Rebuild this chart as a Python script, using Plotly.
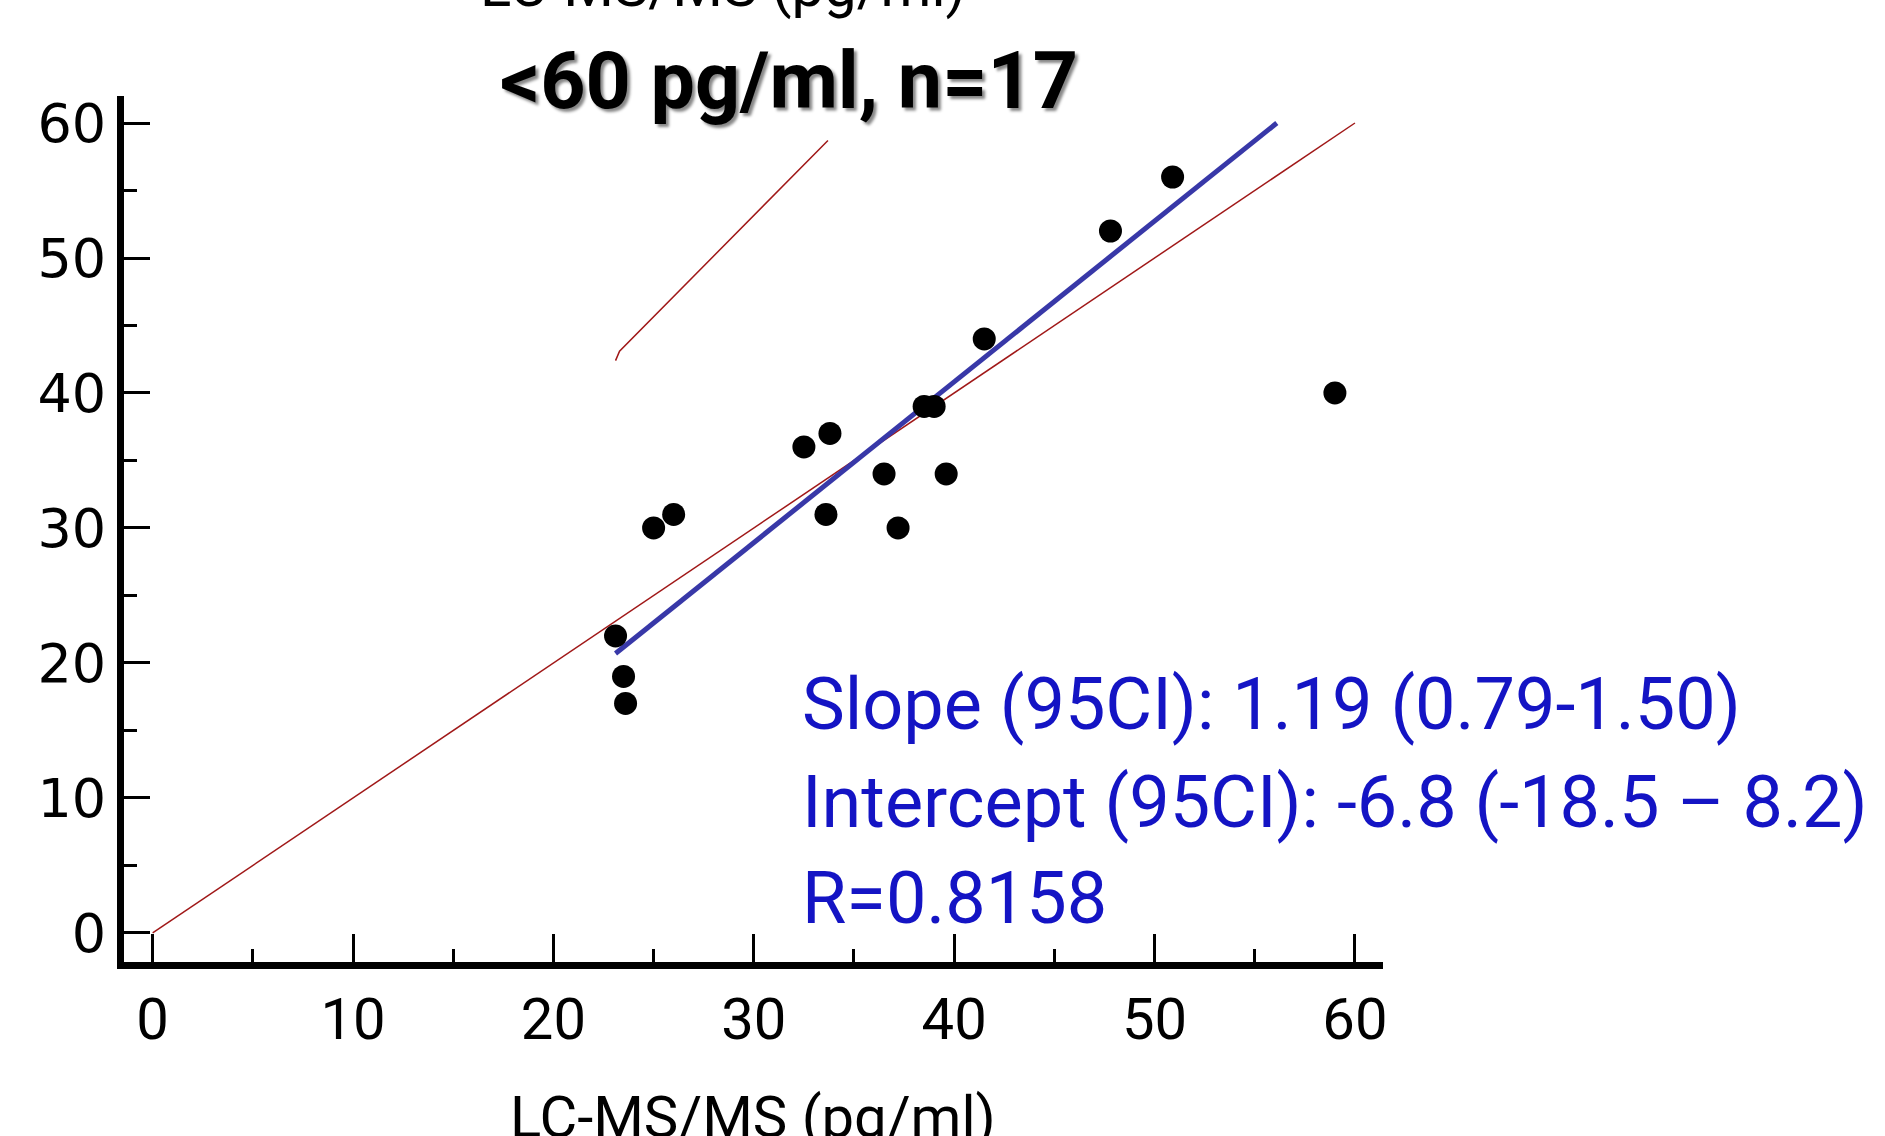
import plotly.graph_objects as go

# Data
lcms_x = [23.1, 23.5, 23.6, 25.0, 26.0, 32.5, 33.8, 33.6, 36.5, 37.2, 38.5, 39.0, 39.6, 41.5, 47.8, 50.9, 59.0]
assay_y = [22, 19, 17, 30, 31, 36, 37, 31, 34, 30, 39, 39, 34, 44, 52, 56, 40]

fit_x = [23.1, 56.1]
fit_y = [20.7, 60.0]

identity_x = [0, 60]
identity_y = [0, 60]

ci_x = [23.1, 23.3, 33.7]
ci_y = [42.4, 43.1, 58.7]

tick_vals = [0, 10, 20, 30, 40, 50, 60]
tick_text = ["0", "10", "20", "30", "40", "50", "60"]

title_text = "<60 pg/ml, n=17"
axis_label = "LC-MS/MS (pg/ml)"
stats_lines = ["Slope (95CI): 1.19 (0.79-1.50)",
               "Intercept (95CI): -6.8 (-18.5 \u2013 8.2)",
               "R=0.8158"]
stats_y = [16.9, 9.66, 2.58]

W, H = 1885, 1136
L, R, T, B = 124, 502, 96, 174

fig = go.Figure()
fig.add_trace(go.Scatter(x=identity_x, y=identity_y, mode="lines",
                         line=dict(color="#a01818", width=1.5), hoverinfo="skip"))
fig.add_trace(go.Scatter(x=ci_x, y=ci_y, mode="lines",
                         line=dict(color="#a01818", width=1.5), hoverinfo="skip"))
fig.add_trace(go.Scatter(x=fit_x, y=fit_y, mode="lines",
                         line=dict(color="#3838a8", width=5), hoverinfo="skip"))
fig.add_trace(go.Scatter(x=lcms_x, y=assay_y, mode="markers",
                         marker=dict(color="black", size=23)))

axis_common = dict(showgrid=False, zeroline=False, showline=True, linecolor="black",
                   linewidth=7, ticks="inside", tickcolor="black", tickwidth=3,
                   tickvals=tick_vals, ticktext=tick_text,
                   minor=dict(ticks="inside", dtick=5, tick0=0, tickcolor="black",
                              tickwidth=3, ticklen=13))

fig.update_xaxes(range=[-1.43, 61.4], ticklen=28,
                 tickfont=dict(family="Roboto", size=58, color="black"),
                 **axis_common)
fig.update_yaxes(range=[-2.15, 62.0], ticklen=26,
                 tickfont=dict(family="DejaVu Sans", size=54, color="black"),
                 ticklabelstandoff=0,
                 **axis_common)

annos = []
for txt, yv in zip(stats_lines, stats_y):
    annos.append(dict(text=txt, x=32.3, y=yv, xref="x", yref="y",
                      xanchor="left", yanchor="middle", showarrow=False,
                      font=dict(family="Roboto", size=72, color="#1414c4")))

def px(xp):
    return (xp - L) / (W - L - R)

def py(yp):
    return (H - B - yp) / (H - T - B)

annos.append(dict(text="<b>" + title_text.replace("<", "&lt;") + "</b>",
                  x=px(789), y=py(81), xref="paper", yref="paper",
                  xanchor="center", yanchor="middle", showarrow=False,
                  font=dict(family="Roboto", size=79, color="black",
                            shadow="3px 3px 3px #888")))
annos.append(dict(text=axis_label, x=px(753), y=py(1117), xref="paper", yref="paper",
                  xanchor="center", yanchor="middle", showarrow=False,
                  font=dict(family="Roboto", size=58, color="black")))
annos.append(dict(text=axis_label, x=px(723), y=py(-14), xref="paper", yref="paper",
                  xanchor="center", yanchor="middle", showarrow=False,
                  font=dict(family="Roboto", size=58, color="black")))

fig.update_layout(width=W, height=H, margin=dict(l=L, r=R, t=T, b=B),
                  paper_bgcolor="white", plot_bgcolor="white",
                  showlegend=False, annotations=annos)

fig.write_html("out.html", config={"displayModeBar": False},
               post_script="document.body.style.margin='0px';document.body.style.overflow='hidden';")
